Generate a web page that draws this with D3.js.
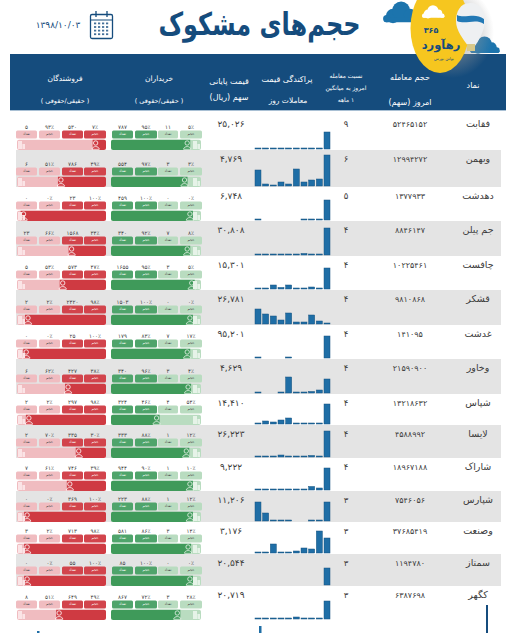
<!DOCTYPE html>
<html lang="fa"><head><meta charset="utf-8">
<script src="https://cdn.jsdelivr.net/npm/d3@7/dist/d3.min.js"></script>
<style>html,body{margin:0;padding:0;background:#fff;overflow:hidden}text{font-family:"DejaVu Sans",sans-serif}</style>
</head><body><svg id="c" width="517" height="633"></svg>
<script>
const symbols=["فقابت","وبهمن","دهدشت","جم پیلن","چافست","قشکر","غدشت","وخاور","شپاس","لایسا","شاراک","شپارس","وصنعت","سمتاز","کگهر"];
const volumes=[52465152,12994272,1377933,8846147,10225461,9810868,141095,21590900,13218632,4588992,18967188,7546056,37685419,1194780,6387698];
const streaks=[9,6,5,4,4,4,4,4,4,4,4,3,3,3,3];
const prices=[25026,4769,6748,30808,15301,26781,95201,4629,14410,26223,9222,11206,3176,20544,20719];
const sparks=[
[1,1,1,1,1,1,1,1,1,17],[16,2,1,4,2,17,4,6,7,31],[1,0,0,0,0,0,1,1,1,20],[1,1,1,1,1,1,1.5,1,1,27],
[1,1,4,1.5,4,1,1,2,1,21],[15,10,8,4,11,2,2,9,3,1],[1,0,0,0,1,0,0,0,0,22],[1,0,0,1,16,1,1,1.5,3,14],
[1,3,2,4,6,1,1,1,1,20],[1,1,1,2,1,1,1,1.5,1,26],[1,1,1,1,1,1,1,3.5,2,22],[19,8,1,1,1,0,0,1,1,19],
[1,1,9,1,1,2,5,4,22,15],[0,0,0,0,0,0,0,0,0,17],[1,1,1,1,1,2,1,1,1,18]];
const sellLegalCount=[5,6,0,23,5,2,0,6,2,2,7,0,3,0,8];
const sellLegalPct=[93,51,0,66,53,2,0,62,2,70,61,0,2,0,51];
const sellRealCount=[530,786,23,1568,573,2420,25,427,297,335,746,369,713,55,649];
const sellRealPct=[7,49,100,34,47,98,100,38,98,30,39,100,98,100,49];
const buyRealCount=[787,554,459,340,1655,1503,179,340,324,333,944,223,581,85,867];
const buyRealPct=[95,97,100,92,95,100,83,96,46,88,90,88,86,100,72];
const buyLegalCount=[11,3,0,7,3,0,7,3,4,1,1,1,3,0,3];
const buyLegalPct=[5,3,0,8,5,0,17,4,54,12,10,12,14,0,28];
const sellBarShare=[15,54,96,42,52,91,93,46,90,34,44,92,92,92,56];
const buyBarShare=[88,85,91,88,93,91,88,89,54,87,91,91,89,91,77];
const headerCols=["نماد","حجم معامله","امروز (سهم)","نسبت معامله","امروز به میانگین","۱ ماهه","پراکندگی قیمت","معاملات روز","قیمت پایانی","سهم (ریال)","خریداران","فروشندگان","( حقیقی/حقوقی )"];

const rowEdges=[115,150,187,221,256,290,325,359,394,425,458,491,522,554,586,620];
const fa=s=>String(s).replace(/\d/g,d=>"۰۱۲۳۴۵۶۷۸۹"[d]);
const svg=d3.select("#c");
const navy="#154c7d", txt="#3c3c3c";

const defs=svg.append("defs");
const gr=defs.append("radialGradient").attr("id","sh");
gr.append("stop").attr("offset","55%").attr("stop-color","#999").attr("stop-opacity",.45);
gr.append("stop").attr("offset","100%").attr("stop-color","#999").attr("stop-opacity",0);
const logo=svg.append("g");
const cloud=(g,x,y,s,c)=>{[[0,0,8],[9,-6,10],[19,-1,7],[-7,3,4],[26,3,4]].forEach(a=>g.append("circle").attr("cx",x+a[0]*s).attr("cy",y+a[1]*s).attr("r",a[2]*s).attr("fill",c));
 g.append("rect").attr("x",x-10*s).attr("y",y+2*s).attr("width",40*s).attr("height",5*s).attr("rx",2).attr("fill",c);};
cloud(logo,393,16,.9,"#1c74ad");
cloud(logo,478,48,.72,"#1c74ad");

svg.append("rect").attr("x",10).attr("y",54).attr("width",496).attr("height",56).attr("fill",navy);
svg.append("rect").attr("x",10).attr("y",110).attr("width",496).attr("height",1).attr("fill","#a9c0d4");

const front=svg.append("g");
front.append("ellipse").attr("cx",452).attr("cy",32).attr("rx",42).attr("ry",46).attr("fill","url(#sh)");
front.append("ellipse").attr("cx",440).attr("cy",28).attr("rx",29.5).attr("ry",45).attr("fill","#f6c61f");
cloud(front,428,14,.55,"#fff");
front.append("path").attr("d","M470 3C460 3 456 12 456 21C456 31 464 40 468 46L475 46C479 40 485 30 485 20C485 11 480 3 470 3Z").attr("fill","#eef0f2");
front.append("path").attr("d","M457 15C465 19 475 12 484 19L484 24C475 18 466 25 457 21Z").attr("fill","#2379b5");
front.append("rect").attr("x",467).attr("y",44).attr("width",8).attr("height",7).attr("fill","#d9c98a");
front.append("text").attr("x",431).attr("y",33).attr("text-anchor","middle").attr("font-size",8).attr("font-weight",700).attr("fill",navy).text("۳۶۵");
front.append("text").attr("x",441).attr("y",49).attr("text-anchor","middle").attr("font-size",11.5).attr("font-weight",700).attr("fill",navy).text("رهآورد");
front.append("text").attr("x",444).attr("y",60).attr("text-anchor","middle").attr("font-size",4).attr("fill",navy).text("بولتن بورس");

svg.append("text").attr("transform","translate(259.5,35) scale(1,1.3)").attr("text-anchor","middle").attr("font-size",24).attr("fill",navy).attr("font-weight",700).attr("direction","rtl").text("حجم\u200cهای مشکوک");
svg.append("text").attr("x",58).attr("y",28).attr("text-anchor","middle").attr("font-size",9).attr("fill",navy).text("۱۳۹۸/۱۰/۰۳");

const cal=svg.append("g");
cal.append("rect").attr("x",90.5).attr("y",14.5).attr("width",22).attr("height",24).attr("rx",1.5).attr("fill","#fff").attr("stroke",navy).attr("stroke-width",1.3);
cal.append("line").attr("x1",90.5).attr("x2",112.5).attr("y1",20).attr("y2",20).attr("stroke",navy).attr("stroke-width",1);
[96,107].forEach(x=>cal.append("line").attr("x1",x).attr("x2",x).attr("y1",11).attr("y2",17).attr("stroke",navy).attr("stroke-width",1.3));
d3.range(4).forEach(i=>d3.range(4).forEach(j=>cal.append("rect").attr("x",94+i*4).attr("y",22.5+j*3.6).attr("width",2.2).attr("height",1.8).attr("fill","#44709a")));

const head=svg.append("g").attr("fill","#fff").attr("text-anchor","middle");
const H=(t,x,y,s)=>head.append("text").attr("x",x).attr("y",y).attr("font-size",s).attr("dominant-baseline","middle").attr("direction","rtl").text(t);
H(headerCols[0],473,85,8);
H(headerCols[1],410,77,8);H(headerCols[2],410,102,8);
H(headerCols[3],346,76,6);H(headerCols[4],346,88,6);H(headerCols[5],346,100,6);
H(headerCols[6],287,79,8);H(headerCols[7],288,101,7.5);
H(headerCols[8],229,81,8);H(headerCols[9],229,97,8);
H(headerCols[10],159,79,7.5);H(headerCols[12],159,101,6.5);
H(headerCols[11],65,79,7.5);H(headerCols[12],65,101,6.5);

const rowBand=i=>({y0:rowEdges[i],y1:rowEdges[i+1]});
const sx=d3.scaleBand().domain(d3.range(10)).range([255,330]).paddingInner(.22);
const sy=d3.scaleLinear().domain([0,32]).range([0,32]);
const sellX=d3.scaleLinear().domain([0,100]).range([106,17]);
const buyX=d3.scaleLinear().domain([0,100]).range([111,201]);
const sellChips=[[16,37],[39,60],[62,83],[84,106]];
const buyChips=[[112,133],[135,157],[158,178],[180,202]];
const dark={r:"#cf3a42",g:"#3f9a5a"}, chipCol={rd:"#d2444c",rp:"#f0bcc0",gd:"#4fa46b",gp:"#b9dcc0"};

function person(g,cx,by,col){
  g.append("circle").attr("cx",cx).attr("cy",by-7).attr("r",2.2).attr("fill","none").attr("stroke",col).attr("stroke-width",.8);
  g.append("path").attr("d",`M${cx-3.6} ${by-.7}C${cx-3.6} ${by-4.3} ${cx+3.6} ${by-4.3} ${cx+3.6} ${by-.7}Z`).attr("fill","none").attr("stroke",col).attr("stroke-width",.8);
}
function building(g,x,by,col){
  g.append("rect").attr("x",x).attr("y",by-9).attr("width",4).attr("height",8).attr("fill",col);
  g.append("rect").attr("x",x+4.4).attr("y",by-6).attr("width",2.6).attr("height",5).attr("fill",col);
}

const rows=svg.selectAll("g.row").data(symbols).join("g").attr("class","row");
rows.each(function(sym,i){
  const g=d3.select(this), {y0,y1}=rowBand(i);
  if(i%2) g.append("rect").attr("x",16).attr("y",y0).attr("width",485).attr("height",y1-y0).attr("fill","#e4e4e4");
  const ty=y0+9;
  const T=(t,x,s,w)=>g.append("text").attr("x",x).attr("y",ty).attr("font-size",s).attr("fill",txt).attr("font-weight",w||400).attr("text-anchor","middle").attr("dominant-baseline","middle").attr("direction","rtl").text(t);
  T(sym,478,9.5);
  T(fa(volumes[i]),410,8);
  T(fa(streaks[i]),346,8.5);
  T(fa(d3.format(",")(prices[i])),231,9);
  g.selectAll("rect.spark").data(sparks[i]).join("rect").attr("class","spark")
    .attr("x",(d,j)=>sx(j)).attr("width",sx.bandwidth())
    .attr("y",d=>y1-1-sy(d)).attr("height",d=>sy(d))
    .attr("fill","#1f6ea6").attr("stroke","#15527f").attr("stroke-width",d=>d>0?.5:0);
  const barB=y1, barT=y1-10.5;
  const clipS=`cs${i}`, clipB=`cb${i}`;
  defs.append("clipPath").attr("id",clipS).append("rect").attr("x",17).attr("y",barT).attr("width",89).attr("height",barB-barT).attr("rx",2.5);
  defs.append("clipPath").attr("id",clipB).append("rect").attr("x",111).attr("y",barT).attr("width",90).attr("height",barB-barT).attr("rx",2.5);
  const bs=g.append("g").attr("clip-path",`url(#${clipS})`);
  bs.append("rect").attr("x",17).attr("y",barT).attr("width",89).attr("height",barB-barT).attr("fill","#f0bcc0");
  bs.append("rect").attr("x",sellX(sellBarShare[i])).attr("y",barT).attr("width",106-sellX(sellBarShare[i])).attr("height",barB-barT).attr("fill",dark.r);
  const bb=g.append("g").attr("clip-path",`url(#${clipB})`);
  bb.append("rect").attr("x",111).attr("y",barT).attr("width",90).attr("height",barB-barT).attr("fill","#b9dcc0");
  bb.append("rect").attr("x",111).attr("y",barT).attr("width",buyX(buyBarShare[i])-111).attr("height",barB-barT).attr("fill",dark.g);
  person(g,sellX(sellBarShare[i])+3,barB,"#fff");
  person(g,buyX(buyBarShare[i])-3,barB,"#e8f4ea");
  building(g,18,barB,"#fbe4e6");
  building(g,193,barB,"#e6f3e8");
  const chipY=barT-9, chipH=8, labY=barT-12;
  const sv=[fa(sellLegalCount[i]),fa(sellLegalPct[i])+"٪",fa(sellRealCount[i]),fa(sellRealPct[i])+"٪"];
  const bv=[fa(buyRealCount[i]),fa(buyRealPct[i])+"٪",fa(buyLegalCount[i]),fa(buyLegalPct[i])+"٪"];
  const chipLbl=["تعداد","حجم","تعداد","حجم"];
  const drawChips=(pos,vals,cols,tcols)=>pos.forEach((p,k)=>{
    g.append("rect").attr("x",p[0]).attr("y",chipY).attr("width",p[1]-p[0]).attr("height",chipH).attr("rx",1.5).attr("fill",cols[k]);
    g.append("text").attr("x",(p[0]+p[1])/2).attr("y",chipY+chipH/2).attr("font-size",3.6).attr("text-anchor","middle").attr("dominant-baseline","middle").attr("fill",tcols[k]).text(chipLbl[k]);
    g.append("text").attr("x",(p[0]+p[1])/2).attr("y",labY).attr("font-size",5.5).attr("text-anchor","middle").attr("dominant-baseline","middle").attr("fill",txt).text(vals[k]);
  });
  drawChips(sellChips,sv,[chipCol.rp,chipCol.rp,chipCol.rd,chipCol.rd],["#444","#444","#fff","#fff"]);
  drawChips(buyChips,bv,[chipCol.gd,chipCol.gd,chipCol.gp,chipCol.gp],["#fff","#fff","#444","#444"]);
});

svg.append("rect").attr("x",486).attr("y",605).attr("width",2).attr("height",28).attr("fill",navy);
svg.append("rect").attr("x",259).attr("y",626).attr("width",2.5).attr("height",7).attr("fill","#1f6ea6");
svg.append("rect").attr("x",37).attr("y",631).attr("width",2.5).attr("height",2).attr("fill","#1f6ea6");
</script></body></html>
